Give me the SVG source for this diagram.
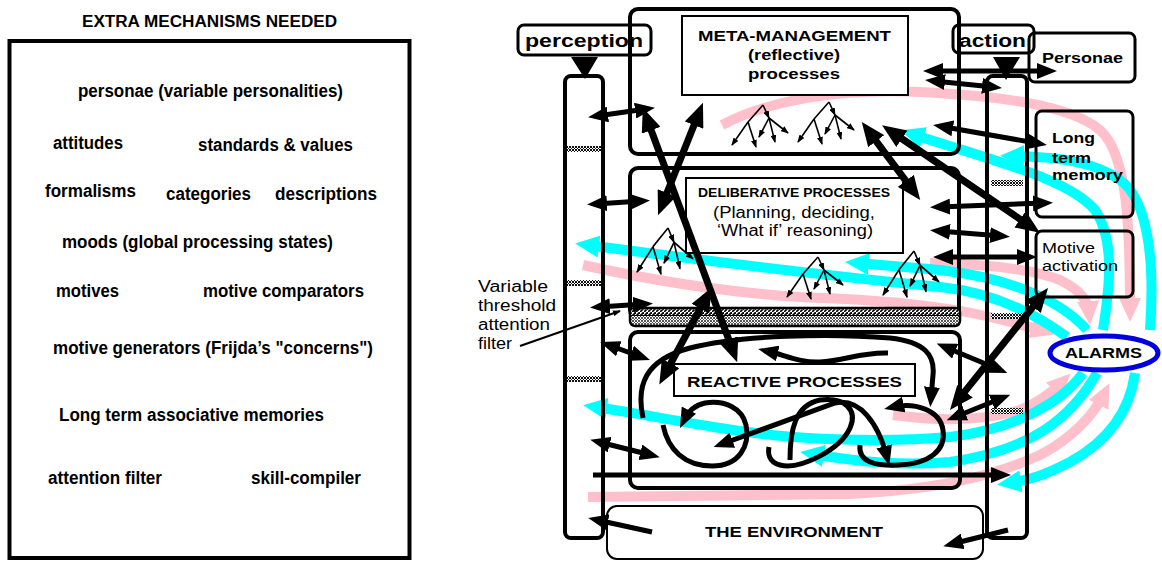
<svg xmlns="http://www.w3.org/2000/svg" width="1162" height="561" viewBox="0 0 1162 561">
<style>
text{font-family:"Liberation Sans",Arial,sans-serif;fill:#000}
.b{font-weight:bold}
.bx{fill:none;stroke:#000;stroke-width:4}
.wb{fill:#fff;stroke:#000;stroke-width:2}
.lb{fill:#fff;stroke:#000;stroke-width:3}
.sb{fill:none;stroke:#000;stroke-width:3}
.ar{fill:none;stroke:#000;stroke-width:5;marker-start:url(#ha);marker-end:url(#ha)}
.ab{fill:none;stroke:#000;stroke-width:7;marker-start:url(#hb);marker-end:url(#hb)}
.a1{fill:none;stroke:#000;stroke-width:5;marker-end:url(#ha)}
.lp{fill:none;stroke:#000;stroke-width:5}
.cy{fill:none;stroke:#00ffff;stroke-width:10;marker-end:url(#hc)}
.pk{fill:none;stroke:#ffc0cb;stroke-width:10;marker-end:url(#hp)}
.tr{fill:none;stroke:#000;stroke-width:1.6;marker-end:url(#ht)}
.t0{fill:none;stroke:#000;stroke-width:1.6}
.hm{fill:url(#chk)}
</style>
<defs>
<marker id="ha" viewBox="0 0 20 16" refX="11" refY="8" markerWidth="20" markerHeight="16" markerUnits="userSpaceOnUse" orient="auto-start-reverse"><path d="M0,0 L20,8 L0,16 z" fill="#000"/></marker>
<marker id="hb" viewBox="0 0 24 20" refX="12" refY="10" markerWidth="24" markerHeight="20" markerUnits="userSpaceOnUse" orient="auto-start-reverse"><path d="M0,0 L24,10 L0,20 z" fill="#000"/></marker>
<marker id="ht" viewBox="0 0 8 6" refX="7" refY="3" markerWidth="8" markerHeight="6" markerUnits="userSpaceOnUse" orient="auto"><path d="M0,0 L8,3 L0,6 z" fill="#000"/></marker>
<marker id="hc" viewBox="0 0 24 22" refX="12" refY="11" markerWidth="24" markerHeight="22" markerUnits="userSpaceOnUse" orient="auto"><path d="M0,0 L24,11 L0,22 z" fill="#00ffff"/></marker>
<marker id="hp" viewBox="0 0 24 22" refX="12" refY="11" markerWidth="24" markerHeight="22" markerUnits="userSpaceOnUse" orient="auto"><path d="M0,0 L24,11 L0,22 z" fill="#ffc0cb"/></marker>
<pattern id="chk" width="3" height="3" patternUnits="userSpaceOnUse"><rect width="3" height="3" fill="#fff"/><path d="M0,3 L3,0 M0,0 L3,3" stroke="#111" stroke-width="1"/></pattern>
<pattern id="dg" width="4" height="4" patternUnits="userSpaceOnUse"><rect width="4" height="4" fill="#fff"/><path d="M-1,5 L5,-1" stroke="#000" stroke-width="1.8"/></pattern>
<pattern id="xh" width="3" height="3" patternUnits="userSpaceOnUse"><rect width="3" height="3" fill="#fff"/><path d="M0,3 L3,0 M0,0 L3,3" stroke="#444" stroke-width=".9"/></pattern>
<g id="tree">
<path class="t0" d="M0,0 L-15,17"/>
<path class="tr" d="M0,0 L6,13"/>
<path class="tr" d="M-15,17 L-31,40"/>
<path class="tr" d="M-15,17 L-7,42"/>
<path class="tr" d="M6,13 L-4,32"/>
<path class="tr" d="M6,13 L12,37"/>
<path class="tr" d="M6,13 L25,28"/>
</g>
</defs>
<rect width="1162" height="561" fill="#fff"/>

<g id="extra-mechanisms">
<text x="82" y="27" class="b" font-size="16" textLength="255" lengthAdjust="spacingAndGlyphs">EXTRA MECHANISMS NEEDED</text>
<rect x="9.5" y="41" width="400" height="517" class="bx"/>
<g class="b" font-size="18">
<text x="78" y="97" textLength="265" lengthAdjust="spacingAndGlyphs">personae (variable personalities)</text>
<text x="53" y="149" textLength="70" lengthAdjust="spacingAndGlyphs">attitudes</text>
<text x="198" y="151" textLength="155" lengthAdjust="spacingAndGlyphs">standards &amp; values</text>
<text x="45" y="197" textLength="91" lengthAdjust="spacingAndGlyphs">formalisms</text>
<text x="166" y="200" textLength="85" lengthAdjust="spacingAndGlyphs">categories</text>
<text x="275" y="200" textLength="102" lengthAdjust="spacingAndGlyphs">descriptions</text>
<text x="62" y="248" textLength="271" lengthAdjust="spacingAndGlyphs">moods (global processing states)</text>
<text x="56" y="297" textLength="63" lengthAdjust="spacingAndGlyphs">motives</text>
<text x="203" y="297" textLength="161" lengthAdjust="spacingAndGlyphs">motive comparators</text>
<text x="53" y="354" textLength="320" lengthAdjust="spacingAndGlyphs">motive generators (Frijda’s "concerns")</text>
<text x="59" y="421" textLength="265" lengthAdjust="spacingAndGlyphs">Long term associative memories</text>
<text x="48" y="484" textLength="114" lengthAdjust="spacingAndGlyphs">attention filter</text>
<text x="251" y="484" textLength="110" lengthAdjust="spacingAndGlyphs">skill-compiler</text>
</g>
</g>

<g id="connectors-alarm-bands">
<path class="pk" d="M722,125 C770,100 840,88 920,92 C1000,96 1070,105 1100,130 C1128,155 1130,230 1130,310"/>
<path class="pk" d="M583,265 C650,280 720,292 800,297 C880,300 940,305 990,317 C1015,323 1030,327 1043,331"/>
<path class="pk" d="M930,263 C980,264 1030,268 1060,280 C1080,290 1088,300 1089,313"/>
<path class="pk" d="M893,415 C930,420 980,422 1020,410 C1040,402 1052,392 1062,382"/>
<path class="pk" d="M588,497 L850,494 C930,490 990,478 1040,455 C1075,437 1095,412 1104,394"/>
<path class="cy" d="M1103,330 C1110,285 1115,240 1095,210 C1068,178 990,160 912,134"/>
<path class="cy" d="M1150,330 C1155,260 1148,200 1120,180 C1095,162 1060,157 1012,156"/>
<path class="cy" d="M1067,337 C1030,310 990,292 940,287 C870,280 760,268 587,245"/>
<path class="cy" d="M1087,330 C1060,300 1010,278 940,270 L857,263"/>
<path class="cy" d="M1083,373 C1060,405 1010,430 950,437 C880,443 790,440 720,428 C670,420 630,412 595,407"/>
<path class="cy" d="M1097,373 C1070,420 1030,450 950,462 C900,466 860,462 812,454"/>
<path class="cy" d="M1135,373 C1130,410 1110,440 1070,462 C1045,475 1030,480 1009,483"/>
</g>

<g id="perception">
<rect x="518" y="25" width="133" height="30" rx="6" class="lb"/>
<text x="525" y="47" class="b" font-size="18" textLength="118" lengthAdjust="spacingAndGlyphs">perception</text>
<polygon points="571,57 598,57 585,79" fill="#000"/>
<rect x="565" y="76" width="38" height="462" rx="6" class="bx"/>
<rect x="567" y="146" width="34" height="6" class="hm"/>
<rect x="567" y="280" width="34" height="6" class="hm"/>
<rect x="567" y="376" width="34" height="6" class="hm"/>
</g>

<g id="action">
<rect x="953" y="25" width="81" height="28" rx="6" class="lb"/>
<text x="959" y="47" class="b" font-size="18" textLength="67" lengthAdjust="spacingAndGlyphs">action</text>
<polygon points="993,57 1020,57 1006,80" fill="#000"/>
<rect x="987" y="76" width="40" height="462" rx="6" class="bx"/>
<rect x="991" y="180" width="32" height="6" class="hm"/>
<rect x="991" y="313" width="32" height="6" class="hm"/>
<rect x="991" y="408" width="32" height="6" class="hm"/>
</g>

<g id="meta-management">
<rect x="630" y="9" width="329" height="145" rx="8" class="bx"/>
<rect x="682" y="16" width="226" height="79" class="wb"/>
<text x="698" y="41" class="b" font-size="15" textLength="193" lengthAdjust="spacingAndGlyphs">META-MANAGEMENT</text>
<text x="748" y="60" class="b" font-size="15" textLength="92" lengthAdjust="spacingAndGlyphs">(reflective)</text>
<text x="748" y="79" class="b" font-size="15" textLength="92" lengthAdjust="spacingAndGlyphs">processes</text>
<use href="#tree" transform="translate(763,105)"/>
<use href="#tree" transform="translate(829,102)"/>
</g>

<g id="deliberative">
<rect x="630" y="168" width="329" height="150" rx="8" class="bx"/>
<rect x="686" y="178" width="217" height="75" class="wb"/>
<text x="698" y="197" class="b" font-size="12" textLength="192" lengthAdjust="spacingAndGlyphs">DELIBERATIVE PROCESSES</text>
<text x="713" y="218" font-size="16" textLength="162" lengthAdjust="spacingAndGlyphs">(Planning, deciding,</text>
<text x="717" y="236" font-size="16" textLength="156" lengthAdjust="spacingAndGlyphs">‘What if’ reasoning)</text>
<use href="#tree" transform="translate(668,228) scale(1,1.1)"/>
<use href="#tree" transform="translate(818,257)"/>
<use href="#tree" transform="translate(914,251) scale(1,1.1)"/>
</g>

<g id="attention-filter">
<rect x="630" y="308" width="330" height="18" rx="5" fill="url(#xh)" stroke="#000" stroke-width="2.5"/>
<rect x="631.5" y="309.5" width="327" height="6" fill="url(#dg)"/>
<line x1="631" y1="315.5" x2="959" y2="315.5" stroke="#000" stroke-width="1"/>
<g font-size="16">
<text x="478" y="292" textLength="70" lengthAdjust="spacingAndGlyphs">Variable</text>
<text x="478" y="311" textLength="78" lengthAdjust="spacingAndGlyphs">threshold</text>
<text x="478" y="330" textLength="72" lengthAdjust="spacingAndGlyphs">attention</text>
<text x="478" y="349" textLength="34" lengthAdjust="spacingAndGlyphs">filter</text>
</g>
<path d="M520,346 L620,311" fill="none" stroke="#000" stroke-width="2" marker-end="url(#ht)"/>
</g>

<g id="reactive">
<rect x="630" y="332" width="330" height="156" rx="8" class="bx"/>
<rect x="674" y="364" width="241" height="32" class="wb"/>
<text x="687" y="387" class="b" font-size="15" textLength="215" lengthAdjust="spacingAndGlyphs">REACTIVE PROCESSES</text>
</g>

<g id="environment">
<rect x="607" y="506" width="376" height="53" rx="10" fill="#fff" stroke="#000" stroke-width="2"/>
<text x="705" y="537" class="b" font-size="14" textLength="178" lengthAdjust="spacingAndGlyphs">THE ENVIRONMENT</text>
</g>

<g id="personae">
<rect x="1029" y="33" width="106" height="49" rx="6" class="sb"/>
<text x="1042" y="63" class="b" font-size="15" textLength="81" lengthAdjust="spacingAndGlyphs">Personae</text>
</g>

<g id="long-term-memory">
<rect x="1036" y="111" width="97" height="106" rx="6" class="sb"/>
<g class="b" font-size="15">
<text x="1052" y="143" textLength="43" lengthAdjust="spacingAndGlyphs">Long</text>
<text x="1052" y="163" textLength="39" lengthAdjust="spacingAndGlyphs">term</text>
<text x="1052" y="180" textLength="71" lengthAdjust="spacingAndGlyphs">memory</text>
</g>
</g>

<g id="motive-activation">
<rect x="1036" y="231" width="97" height="66" rx="6" class="sb"/>
<text x="1042" y="253" font-size="15" textLength="53" lengthAdjust="spacingAndGlyphs">Motive</text>
<text x="1042" y="271" font-size="15" textLength="76" lengthAdjust="spacingAndGlyphs">activation</text>
</g>

<g id="alarms">
<ellipse cx="1104" cy="353" rx="54" ry="17" fill="#fff" stroke="#0000dd" stroke-width="5"/>
<text x="1065" y="358" class="b" font-size="15" textLength="77" lengthAdjust="spacingAndGlyphs">ALARMS</text>
</g>

<g id="connectors">
<path class="lp" d="M643,418 C636,385 645,360 690,348 C740,335 830,333 890,338 C925,342 935,355 933,375 L931,398" marker-end="url(#ha)"/>
<path class="lp" d="M888,353 C860,352 845,361 820,362 C800,363 785,355 767,351" marker-end="url(#ha)"/>
<path class="lp" d="M663,425 C668,450 685,466 712,466 C740,466 750,445 746,425 C742,408 725,400 705,403 C695,405 688,412 684,420" marker-end="url(#ha)"/>
<path class="lp" d="M722,444 L835,403 C860,398 878,423 887,457" marker-start="url(#ha)" marker-end="url(#ha)"/>
<path class="lp" d="M790,460 C790,430 795,405 820,400 C845,397 858,410 850,428 C840,450 800,470 780,465 C768,462 768,452 769,447"/>
<path class="lp" d="M860,445 C858,462 875,466 898,465 C930,464 946,450 943,430 C940,410 915,402 893,407" marker-end="url(#ha)"/>

<line class="ar" x1="597" y1="116" x2="646" y2="109"/>
<line class="ab" x1="647" y1="119" x2="733" y2="351" stroke-width="8"/>
<line class="ab" x1="698.5" y1="114" x2="662.5" y2="204"/>
<line class="ab" x1="706" y1="298" x2="665" y2="374" stroke-width="6"/>
<line class="ar" x1="932" y1="71" x2="1048" y2="71" stroke-width="5.5"/>
<line class="ar" x1="934" y1="81" x2="993" y2="87"/>
<line class="ar" x1="942" y1="126.5" x2="1038" y2="143.4"/>
<line class="ab" x1="869" y1="131.6" x2="913" y2="190.4"/>
<line class="ab" x1="892" y1="132" x2="1030" y2="226" stroke-width="6"/>
<line class="ar" x1="596" y1="204" x2="641" y2="201"/>
<line class="ar" x1="599" y1="307" x2="644" y2="304"/>
<line class="ar" x1="939" y1="207" x2="1044" y2="203"/>
<line class="ar" x1="939" y1="231" x2="1001" y2="236"/>
<line class="ar" x1="942" y1="257" x2="1028" y2="257"/>
<line class="ar" x1="608.5" y1="345" x2="641.5" y2="357"/>
<line class="ar" x1="599" y1="442" x2="651" y2="455"/>
<line class="a1" x1="593" y1="475" x2="1002" y2="475" stroke-width="6"/>
<line class="a1" x1="652" y1="532" x2="597" y2="520"/>
<line class="a1" x1="1008" y1="530" x2="952" y2="544"/>
<line class="ar" x1="945" y1="347" x2="999" y2="369.5"/>
<line class="ar" x1="955" y1="417" x2="1002" y2="398"/>
<line class="ab" x1="957.5" y1="400.6" x2="1040.5" y2="297.4" stroke-width="6"/>
</g>
</svg>
